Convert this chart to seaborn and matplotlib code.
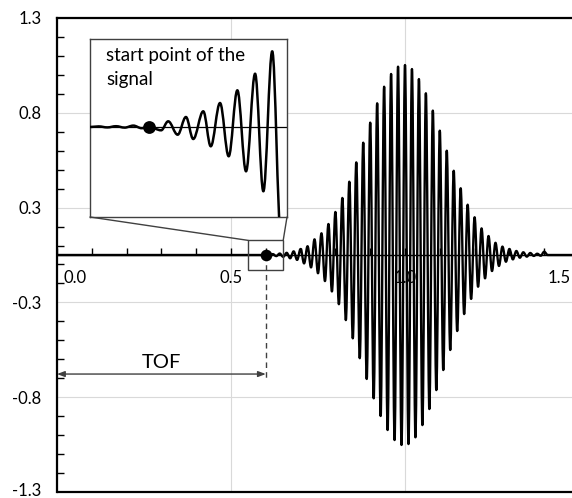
import numpy as np
import matplotlib
matplotlib.use("Agg")
import matplotlib.pyplot as plt
from matplotlib.path import Path
from matplotlib.patches import PathPatch, Rectangle, ConnectionPatch
from matplotlib.ticker import FixedLocator, MultipleLocator
from matplotlib.transforms import ScaledTranslation
import seaborn as sns

# ------------------------------------------------------------------ data
x_ticks = [0.0, 0.5, 1.0, 1.5]
x_tick_labels = ["0.0", "0.5", "1.0", "1.5"]
y_ticks = [1.3, 0.78, 0.26, -0.26, -0.78, -1.3]
y_tick_labels = ["1.3", "0.8", "0.3", "-0.3", "-0.8", "-1.3"]

# extrema of the received signal (time, amplitude)
signal_t = [0.00,
            0.60, 0.61, 0.62, 0.63, 0.64, 0.65, 0.66, 0.67, 0.68, 0.69,
            0.70, 0.71, 0.72, 0.73, 0.74, 0.75, 0.76, 0.77, 0.78, 0.79,
            0.80, 0.81, 0.82, 0.83, 0.84, 0.85, 0.86, 0.87, 0.88, 0.89,
            0.90, 0.91, 0.92, 0.93, 0.94, 0.95, 0.96, 0.97, 0.98, 0.99,
            1.00, 1.01, 1.02, 1.03, 1.04, 1.05, 1.06, 1.07, 1.08, 1.09,
            1.10, 1.11, 1.12, 1.13, 1.14, 1.15, 1.16, 1.17, 1.18, 1.19,
            1.20, 1.21, 1.22, 1.23, 1.24, 1.25, 1.26, 1.27, 1.28, 1.29,
            1.30, 1.31, 1.32, 1.33, 1.34, 1.35, 1.36, 1.37, 1.38, 1.39,
            1.40, 1.41, 1.55]
signal_v = [0.0,
            0.0, -0.004, 0.005, -0.006, 0.008, -0.010, 0.012, -0.018, 0.020, -0.027,
            0.033, -0.046, 0.048, -0.068, 0.086, -0.100, 0.119, -0.143, 0.170, -0.200,
            0.236, -0.270, 0.313, -0.357, 0.402, -0.457, 0.508, -0.566, 0.616, -0.680,
            0.726, -0.786, 0.832, -0.883, 0.923, -0.960, 0.993, -1.015, 1.033, -1.042,
            1.042, -1.037, 1.020, -1.000, 0.965, -0.933, 0.887, -0.845, 0.792, -0.741,
            0.682, -0.631, 0.572, -0.521, 0.462, -0.417, 0.366, -0.324, 0.276, -0.241,
            0.207, -0.174, 0.146, -0.128, 0.104, -0.088, 0.067, -0.060, 0.046, -0.037,
            0.033, -0.024, 0.022, -0.015, 0.015, -0.009, 0.011, -0.005, 0.007, -0.004,
            0.018, 0.0, 0.0]

# enlarged view of the signal onset (inset)
inset_t = [0.5700, 0.5744, 0.5788, 0.5832, 0.5876, 0.5920, 0.5962, 0.6003,
           0.6061, 0.6097, 0.6145, 0.6187, 0.6224, 0.6275, 0.6313, 0.6360,
           0.6404, 0.6448, 0.6492, 0.6538, 0.6580, 0.6625, 0.6668]
inset_v = [0.0, 0.0006, -0.0004, 0.0008, -0.0006, 0.0014, -0.0012, 0.0,
           -0.0033, 0.0057, -0.0077, 0.0100, -0.0120, 0.0157, -0.0193, 0.0240,
           -0.0293, 0.0367, -0.0443, 0.0533, -0.0643, 0.0757, -0.105]

start_t = 0.60
start_v = 0.0
inset_text = "start point of the\nsignal"
tof_text = "TOF"


# ------------------------------------------------------------------ helpers
def smooth_path(t, v, k=0.364):
    """Smoothed line through the given points (horizontal tangents at each)."""
    verts = [(t[0], v[0])]
    codes = [Path.MOVETO]
    for i in range(len(t) - 1):
        h = t[i + 1] - t[i]
        verts += [(t[i] + k * h, v[i]), (t[i + 1] - k * h, v[i + 1]), (t[i + 1], v[i + 1])]
        codes += [Path.CURVE4] * 3
    return Path(verts, codes)


# ------------------------------------------------------------------ style
sns.set_style("white")
plt.rcParams["font.family"] = ["Lato", "DejaVu Sans"]

W, H = 572, 498
fig = plt.figure(figsize=(W / 100, H / 100), dpi=100)
ax = fig.add_axes([57 / W, 6 / H, 522 / W, 474 / H])
ax.set_xlim(0, 1.5)
ax.set_ylim(-1.3, 1.3)

edge = "#404040"
grid_c = "#d9d9d9"

# grid
ax.set_axisbelow(True)
ax.set_xticks(x_ticks)
ax.set_xticklabels(x_tick_labels)
ax.set_yticks(y_ticks)
ax.set_yticklabels(y_tick_labels)
ax.grid(True, which="major", color=grid_c, lw=0.8)
ax.xaxis.set_minor_locator(MultipleLocator(0.1))
ax.yaxis.set_minor_locator(FixedLocator(np.linspace(-1.3, 1.3, 26)))

# spines: frame left/top/bottom, horizontal axis through zero
for s in ("left", "top"):
    ax.spines[s].set_linewidth(1.6)
    ax.spines[s].set_color("black")
ax.spines["right"].set_visible(False)
ax.spines["bottom"].set_position(("data", 0))
ax.spines["bottom"].set_linewidth(1.0)
ax.spines["bottom"].set_color("black")
ax.axhline(-1.3, color="black", lw=1.6, clip_on=False, zorder=3)

ax.tick_params(axis="y", which="minor", direction="in", length=5, width=1, color="black", left=True)
ax.tick_params(axis="y", which="major", length=0, pad=11, labelsize=12, labelcolor="black")
ax.tick_params(axis="x", which="both", direction="in", length=5, width=1, color="black", bottom=True)
ax.tick_params(axis="x", which="major", pad=11, labelsize=12, labelcolor="black")

xl = ax.get_xticklabels()
xl[0].set_ha("left")
xl[0].set_transform(xl[0].get_transform() + ScaledTranslation(6 / 100, 0, fig.dpi_scale_trans))
xl[-1].set_ha("right")
xl[-1].set_transform(xl[-1].get_transform() + ScaledTranslation(-8 / 100, 0, fig.dpi_scale_trans))
yl = ax.get_yticklabels()
yl[-1].set_transform(yl[-1].get_transform() + ScaledTranslation(0, 3 / 100, fig.dpi_scale_trans))

# signal
ax.add_patch(PathPatch(smooth_path(signal_t, signal_v), fill=False, ec="black",
                       lw=1.7, joinstyle="round", capstyle="round", zorder=4))

# start point marker
sns.scatterplot(x=[start_t], y=[start_v], ax=ax, s=70, color="black",
                linewidth=0, zorder=6, legend=False)

# zoom box on main axes
ax.add_patch(Rectangle((0.55, -0.08), 0.10, 0.16, fill=False, ec=edge, lw=1.0, zorder=5))

# dashed drop line and TOF arrow
ax.plot([start_t, start_t], [start_v, -0.68], ls=(0, (4, 3)), color=edge, lw=1.0, zorder=3)
ax.annotate("", xy=(0.0, -0.653), xytext=(start_t, -0.653),
            arrowprops=dict(arrowstyle="<|-|>,head_length=0.45,head_width=0.17",
                            color=edge, lw=1.0, shrinkA=0, shrinkB=0))
ax.text(0.30, -0.587, tof_text, ha="center", va="center", fontsize=14.5, color="black")

# inset
axin = fig.add_axes([90 / W, (H - 217) / H, 197 / W, 178 / H])
axin.set_facecolor("white")
axin.set_xlim(0.57, 0.67)
axin.set_ylim(-0.09, 0.088)
axin.set_xticks([])
axin.set_yticks([])
for s in axin.spines.values():
    s.set_color(edge)
    s.set_linewidth(1.0)
axin.axhline(0, color="black", lw=0.9, zorder=2)
axin.add_patch(PathPatch(smooth_path(inset_t, inset_v), fill=False, ec="black",
                         lw=1.8, joinstyle="round", capstyle="round", zorder=3))
sns.scatterplot(x=[start_t], y=[start_v], ax=axin, s=85, color="black",
                linewidth=0, zorder=5, legend=False)
axin.set_xlabel("")
axin.set_ylabel("")
axin.text(0.081, 0.955, inset_text, transform=axin.transAxes, ha="left", va="top",
          fontsize=13.5, linespacing=1.5, color="black")

# connector lines
for xa, xb in ((0, 0.55), (1, 0.65)):
    con = ConnectionPatch(xyA=(xa, 0), coordsA=axin.transAxes, xyB=(xb, 0.08),
                          coordsB=ax.transData, color=edge, lw=1.0)
    fig.add_artist(con)

ax.set_xlabel("")
ax.set_ylabel("")
fig.savefig("out.png", dpi=100)
